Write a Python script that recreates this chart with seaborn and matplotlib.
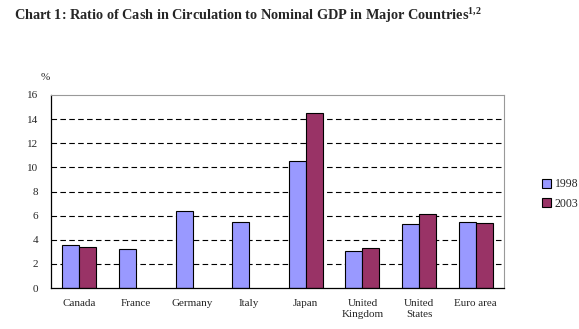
import matplotlib
matplotlib.use("Agg")
import matplotlib.pyplot as plt
import seaborn as sns
import pandas as pd
import numpy as np

categories = ["Canada", "France", "Germany", "Italy", "Japan", "United\nKingdom", "United\nStates", "Euro area"]
years = ["1998", "2003"]
values_1998 = [3.55, 3.2, 6.4, 5.5, 10.55, 3.05, 5.3, 5.5]
values_2003 = [3.4, np.nan, np.nan, np.nan, 14.5, 3.3, 6.1, 5.35]
yticks = [0, 2, 4, 6, 8, 10, 12, 14, 16]

rows = []
for c, v1, v2 in zip(categories, values_1998, values_2003):
    rows.append({"country": c, "year": years[0], "value": v1})
    rows.append({"country": c, "year": years[1], "value": v2})
df = pd.DataFrame(rows)

sns.set_theme(style="white")
plt.rcParams["font.family"] = ["Liberation Serif", "DejaVu Serif"]
plt.rcParams["mathtext.fontset"] = "custom"
plt.rcParams["mathtext.rm"] = "Liberation Serif"
plt.rcParams["mathtext.bf"] = "Liberation Serif:bold"

fig = plt.figure(figsize=(5.79, 3.29), dpi=100)
ax = fig.add_axes([51/579, 41/329, 453/579, 193/329])

sns.barplot(data=df, x="country", y="value", hue="year", order=categories,
            hue_order=years, palette={"1998": "#9999FF", "2003": "#993366"},
            saturation=1, width=0.6, edgecolor="black", linewidth=0.8, ax=ax,
            errorbar=None, legend=True)

ax.set_ylim(0, 16)
ax.set_xlim(-0.5, len(categories) - 0.5)
ax.set_yticks(yticks)
ax.set_yticklabels([str(t) for t in yticks], fontsize=8)
ax.tick_params(axis="y", length=0, pad=9)
ax.tick_params(axis="x", length=0, labelsize=8, pad=8)
ax.set_xticks(np.arange(0.5, len(categories) - 0.5), minor=True)
ax.tick_params(axis="x", which="minor", direction="in", length=3, color="black", width=0.8)
ax.set_xlabel("")
ax.set_ylabel("")
for y in yticks[1:-1]:
    ax.axhline(y, color="black", linestyle=(0, (5, 3)), linewidth=0.8, zorder=0)
ax.set_axisbelow(True)
for s in ["left", "bottom"]:
    ax.spines[s].set_color("black")
    ax.spines[s].set_linewidth(0.9)
for s in ["top", "right"]:
    ax.spines[s].set_color("#999999")
    ax.spines[s].set_linewidth(0.8)

ax.text(-0.013, 1.093, "%", transform=ax.transAxes, fontsize=8, ha="center", va="center")

leg = ax.legend(loc="center left", bbox_to_anchor=(1.06, 0.487), frameon=False,
                fontsize=8.5, handlelength=0.8, handleheight=0.8, handletextpad=0.3,
                labelspacing=0.6)

fig.text(14/579, 1 - 15/329, r"Chart 1: Ratio of Cash in Circulation to Nominal GDP in Major Countries$^{\mathbf{1{,}2}}$",
         fontsize=10.3, fontweight="bold", va="center", ha="left")

fig.savefig("out.png", dpi=100)
